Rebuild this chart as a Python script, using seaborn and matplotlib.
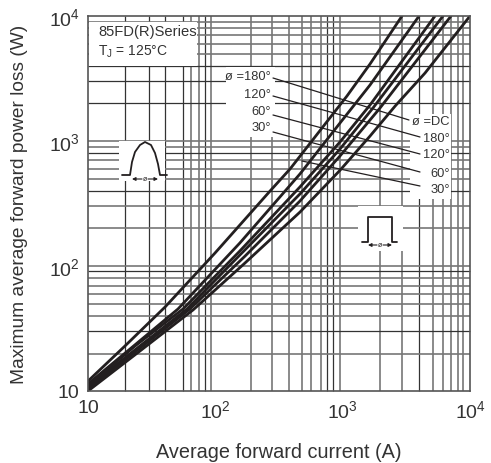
# Power loss vs average forward current, log-log chart with busy hand-drawn style grid.
import matplotlib.pyplot as plt
import pandas as pd
import seaborn as sns

W, H = 491, 464

# curves, left to right
current_1 = [10, 19.5, 40.3, 99.4, 269, 386, 1081, 1640, 2924]
loss_1 = [12.0, 22.9, 47.0, 127, 398, 597, 2291, 4130, 10000]
current_2 = [10, 21.4, 50.9, 156, 462, 953, 1640, 3981]
loss_2 = [11.4, 21.7, 45.3, 153, 545, 1393, 2805, 10000]
current_3 = [10, 23.4, 55.7, 156, 462, 953, 1640, 5309]
loss_3 = [11.0, 22.9, 45.3, 132, 429, 982, 1941, 10000]
current_4 = [10, 59.9, 156, 462, 953, 1730, 6138]
loss_4 = [10.8, 45.3, 122.5, 377, 863, 1837, 10000]
current_5 = [10, 63.2, 171, 462, 953, 1965, 7096]
loss_5 = [10.4, 45.3, 120, 331, 759, 1837, 10000]
current_6 = [10, 25.6, 66.8, 171, 462, 953, 1640, 2590, 4436, 10000]
loss_6 = [10, 20.9, 44.5, 105.7, 270, 583, 1095, 1910, 3499, 10000]

tick_values = [10, 100, 1000, 10000]
tick_labels = ['10', r'$\mathregular{10^2}$', r'$\mathregular{10^3}$', r'$\mathregular{10^4}$']
left_labels = ['ø =180°', '120°', '60°', '30°']
right_labels = ['ø =DC', '180°', '120°', '60°', '30°']

# grid lines are uneven in the original, so these stay in image pixels
grid_x_gray = [191, 199, 211, 251, 272, 289, 302, 311, 321, 340, 380, 402, 433, 443, 451, 458, 463]
grid_x_dark = [125, 149, 165, 183, 205, 327, 333, 419]
grid_y_gray = [23, 29, 36, 45, 55, 142, 148, 161, 170, 180, 207, 229, 267, 279, 287, 295, 305, 317, 355]
grid_y_dark = [67, 82, 104, 154, 192, 272, 332]

curves = [(current_1, loss_1), (current_2, loss_2), (current_3, loss_3),
          (current_4, loss_4), (current_5, loss_5), (current_6, loss_6)]
rows = []
for n, (xs, ys) in enumerate(curves):
    for x, y in zip(xs, ys):
        rows.append({'curve': n, 'current': x, 'loss': y})
df = pd.DataFrame(rows)

sns.set_theme(style='white')
plt.rcParams['font.family'] = ['Liberation Sans', 'DejaVu Sans']
text_color = '#333333'

fig = plt.figure(figsize=(W / 100, H / 100), dpi=100)


def pixel_axes(zorder):
    a = fig.add_axes([0, 0, 1, 1], zorder=zorder)
    a.set_xlim(0, W)
    a.set_ylim(H, 0)
    a.axis('off')
    return a


# grid and white label patches go under the curves
under = pixel_axes(0)
under.vlines(grid_x_gray, 17, 392, color='#777777', lw=1.2, zorder=1)
under.vlines(grid_x_dark, 17, 392, color='#333333', lw=0.9, zorder=1)
under.hlines(grid_y_gray, 88, 470, color='#777777', lw=1.2, zorder=1)
under.hlines(grid_y_dark, 88, 470, color='#333333', lw=0.9, zorder=1)
for x0, y0, x1, y1 in [(89, 23, 197, 67), (226, 68, 275, 138), (410, 115, 451, 200),
                       (119, 142, 165, 182), (358, 207, 403, 252)]:
    under.fill([x0, x1, x1, x0], [y0, y0, y1, y1], color='white', lw=0, zorder=3)

ax = fig.add_axes([88 / W, 1 - 392 / H, 382 / W, 375 / H], zorder=1)
ax.patch.set_alpha(0)
sns.lineplot(data=df, x='current', y='loss', hue='curve', palette=['#231f20'] * 6,
             linewidth=2.0, legend=False, ax=ax, estimator=None, sort=False)
ax.set_xscale('log')
ax.set_yscale('log')
ax.set_xlim(10, 10000)
ax.set_ylim(10, 10000)
ax.set_xticks(tick_values)
ax.set_xticklabels(tick_labels)
ax.set_yticks(tick_values)
ax.set_yticklabels(tick_labels)
ax.minorticks_off()
ax.tick_params(length=0, labelsize=14, labelcolor=text_color, pad=6)
ax.set_xlabel('Average forward current (A)', fontsize=14.3, color=text_color, labelpad=15)
ax.set_ylabel('Maximum average forward power loss (W)', fontsize=13.8, color=text_color, labelpad=15)
for spine in ax.spines.values():
    spine.set_color('#555555')
    spine.set_linewidth(1.2)

# notes, leader lines and the two waveform icons
over = pixel_axes(2)
over.text(98, 32, '85FD(R)Series', fontsize=10.6, color=text_color, va='center')
over.text(98, 52, r'T$\mathregular{_J}$ = 125°C', fontsize=10, color=text_color, va='center')
for label, y in zip(left_labels, [77, 95, 112, 128]):
    over.text(271, y, label, fontsize=9.3, color=text_color, ha='right', va='center')
for label, y in zip(right_labels, [122, 139, 155, 174, 190]):
    over.text(450, y, label, fontsize=9.3, color=text_color, ha='right', va='center')
leaders = [(273, 79, 409, 121), (273, 97, 420, 138), (273, 116, 420, 155),
           (273, 133, 420, 173), (302, 162, 420, 187)]
for x0, y0, x1, y1 in leaders:
    over.plot([x0, x1], [y0, y1], color='#231f20', lw=0.9)

hump_x = [122, 130, 132, 135, 140, 145, 151, 155, 158, 160, 167]
hump_y = [176, 176, 163, 153, 146, 143, 146, 154, 165, 176, 176]
over.plot(hump_x, hump_y, color='#231f20', lw=1.3)
over.annotate('', (132, 180), (142, 180), arrowprops=dict(arrowstyle='-|>', color='#231f20', lw=0.8, mutation_scale=5, shrinkA=0, shrinkB=0))
over.annotate('', (158, 180), (148, 180), arrowprops=dict(arrowstyle='-|>', color='#231f20', lw=0.8, mutation_scale=5, shrinkA=0, shrinkB=0))
over.text(145, 180, 'ø', fontsize=5, color='#231f20', ha='center', va='center')

box_x = [362, 368, 368, 392, 392, 397]
box_y = [243, 243, 218, 218, 243, 243]
over.plot(box_x, box_y, color='#231f20', lw=1.3)
over.annotate('', (368, 246), (377, 246), arrowprops=dict(arrowstyle='-|>', color='#231f20', lw=0.8, mutation_scale=5, shrinkA=0, shrinkB=0))
over.annotate('', (392, 246), (383, 246), arrowprops=dict(arrowstyle='-|>', color='#231f20', lw=0.8, mutation_scale=5, shrinkA=0, shrinkB=0))
over.text(380, 246, 'ø', fontsize=5, color='#231f20', ha='center', va='center')

fig.savefig('out.png', dpi=100)
